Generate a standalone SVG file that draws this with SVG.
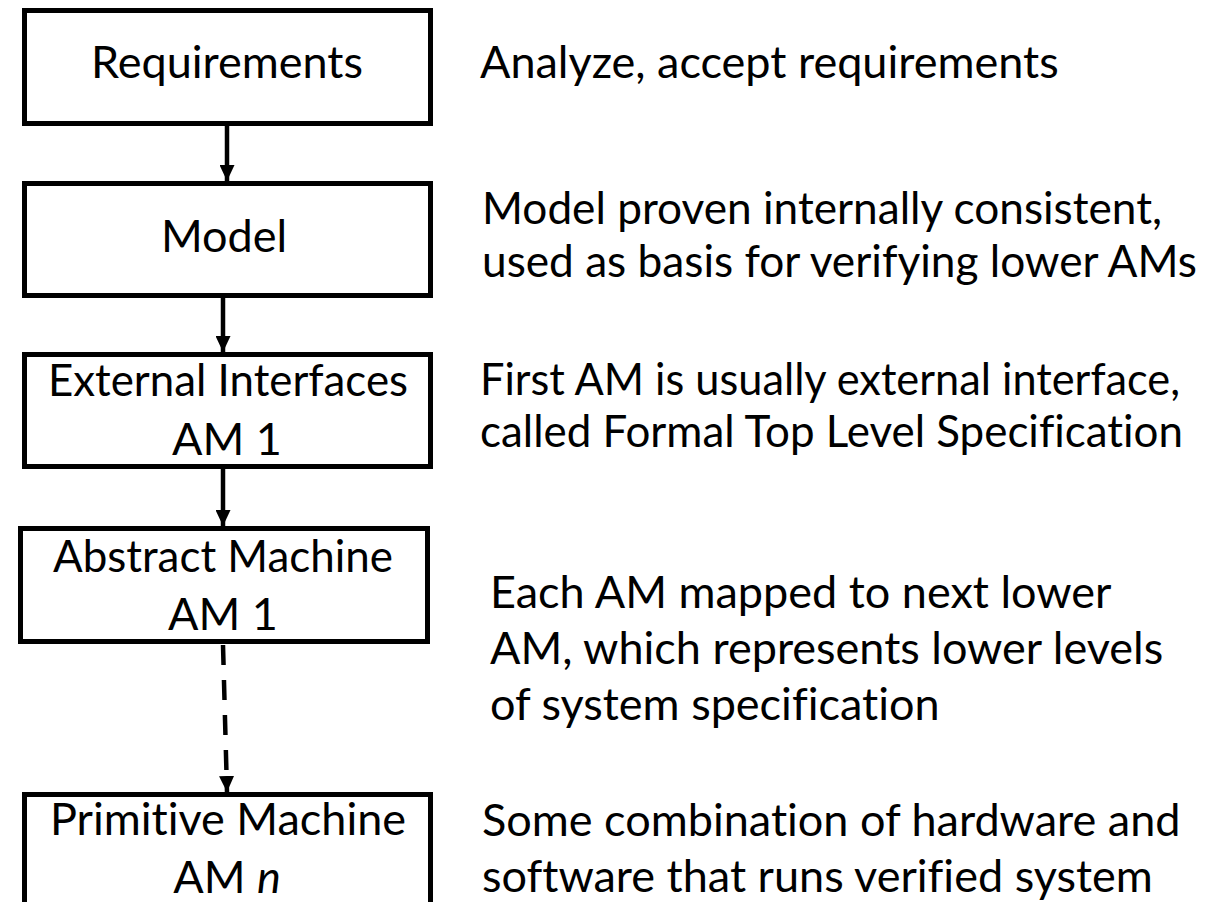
<svg xmlns="http://www.w3.org/2000/svg" width="1218" height="902" viewBox="0 0 1218 902">
  <style>
    .box { fill: #ffffff; stroke: #000000; stroke-width: 5; }
    .lbl { font-family: "Lato", "Liberation Sans", sans-serif; font-size: 45px; fill: #000000; font-variant-ligatures: none; }
    .mid { text-anchor: middle; }
    .link { stroke: #000000; stroke-width: 4.5; fill: none; }
    .dash { stroke-dasharray: 20 15; }
  </style>
  <defs>
    <marker id="head" viewBox="0 0 16 15" refX="16" refY="7.5" markerWidth="16" markerHeight="15" markerUnits="userSpaceOnUse" orient="auto">
      <path d="M0,0 L16,7.5 L0,15 Z" fill="#000000"/>
    </marker>
  </defs>
  <rect width="1218" height="902" fill="#ffffff"/>

  <!-- connectors between levels -->
  <g id="connectors">
    <line class="link" x1="227" y1="126" x2="227" y2="181" marker-end="url(#head)"/>
    <line class="link" x1="223" y1="298" x2="223" y2="352" marker-end="url(#head)"/>
    <line class="link" x1="223" y1="469" x2="223" y2="526" marker-end="url(#head)"/>
    <line class="link dash" x1="223" y1="645" x2="227" y2="792" marker-end="url(#head)"/>
  </g>

  <g id="requirements">
    <rect class="box" x="24.5" y="10.5" width="406" height="113"/>
    <text class="lbl mid" x="227" y="78">Requirements</text>
  </g>
  <g id="model">
    <rect class="box" x="24.5" y="183.5" width="406" height="112"/>
    <text class="lbl mid" x="224" y="252">Model</text>
  </g>
  <g id="external-interfaces">
    <rect class="box" x="24.5" y="354.5" width="406" height="112"/>
    <text class="lbl mid" x="228" y="396" textLength="360" lengthAdjust="spacingAndGlyphs">External Interfaces</text>
    <text class="lbl mid" x="227" y="455">AM 1</text>
  </g>
  <g id="abstract-machine">
    <rect class="box" x="20.5" y="528.5" width="407" height="113"/>
    <text class="lbl mid" x="223" y="572" textLength="340" lengthAdjust="spacingAndGlyphs">Abstract Machine</text>
    <text class="lbl mid" x="223" y="630">AM 1</text>
  </g>
  <g id="primitive-machine">
    <rect class="box" x="24.5" y="794.5" width="406" height="130"/>
    <text class="lbl mid" x="228" y="835">Primitive Machine</text>
    <text class="lbl mid" x="227" y="893">AM <tspan font-style="italic">n</tspan></text>
  </g>

  <!-- descriptions beside each level -->
  <g id="notes">
    <text class="lbl" x="480" y="78">Analyze, accept requirements</text>
    <text class="lbl" x="482" y="224" textLength="680" lengthAdjust="spacingAndGlyphs">Model proven internally consistent,</text>
    <text class="lbl" x="482" y="277" textLength="715" lengthAdjust="spacingAndGlyphs">used as basis for verifying lower AMs</text>
    <text class="lbl" x="480" y="395" textLength="700" lengthAdjust="spacingAndGlyphs">First AM is usually external interface,</text>
    <text class="lbl" x="480" y="447" textLength="703" lengthAdjust="spacingAndGlyphs">called Formal Top Level Specification</text>
    <text class="lbl" x="490" y="608">Each AM mapped to next lower</text>
    <text class="lbl" x="490" y="664">AM, which represents lower levels</text>
    <text class="lbl" x="490" y="720">of system specification</text>
    <text class="lbl" x="482" y="836">Some combination of hardware and</text>
    <text class="lbl" x="482" y="892">software that runs verified system</text>
  </g>
</svg>
